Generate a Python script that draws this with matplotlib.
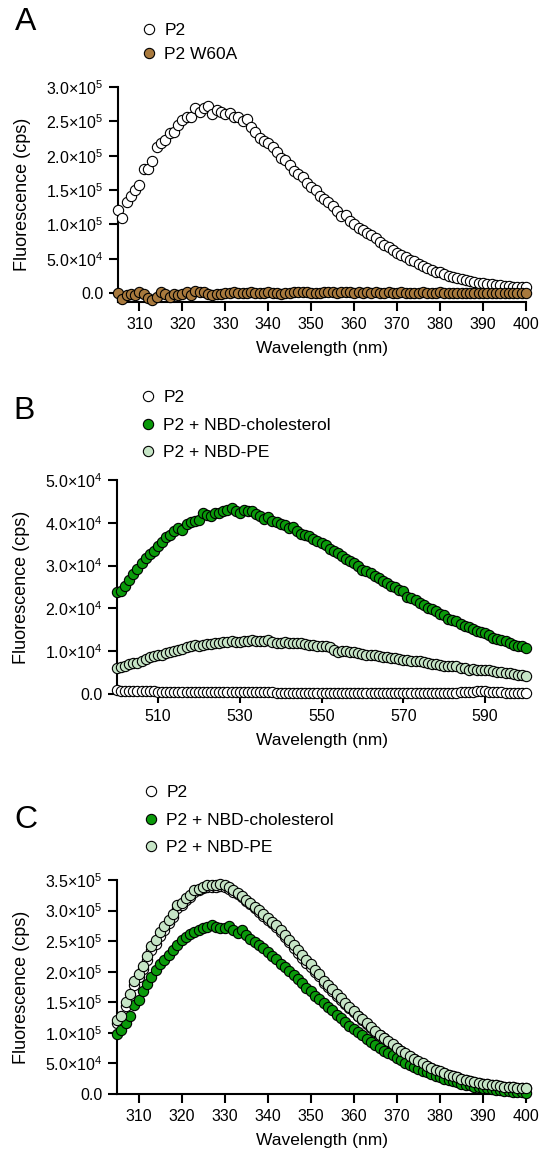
import numpy as np
import matplotlib
matplotlib.use('Agg')
import matplotlib.pyplot as plt

plt.rcParams['font.family'] = ['Liberation Sans', 'DejaVu Sans']
plt.rcParams['mathtext.fontset'] = 'custom'
plt.rcParams['mathtext.rm'] = 'Liberation Sans'
plt.rcParams['mathtext.it'] = 'Liberation Sans:italic'
plt.rcParams['mathtext.bf'] = 'Liberation Sans:bold'
plt.rcParams['mathtext.sf'] = 'Liberation Sans'

# ---- data -------------------------------------------------------------
# panel A / C wavelength axis: 305..400 nm, 1 nm steps
wl_trp = list(range(305, 401))
# panel B wavelength axis: 500..600 nm
wl_nbd = list(range(500, 601))

# panel A, units of 1e5 cps
a_p2 = [1.21, 1.10, 1.33, 1.41, 1.50, 1.58, 1.81, 1.81, 1.92, 2.12,
        2.19, 2.23, 2.33, 2.35, 2.45, 2.52, 2.57, 2.56, 2.69, 2.64,
        2.70, 2.72, 2.61, 2.67, 2.64, 2.60, 2.62, 2.57, 2.56, 2.51,
        2.53, 2.42, 2.34, 2.26, 2.21, 2.18, 2.12, 2.05, 1.97, 1.94,
        1.87, 1.78, 1.74, 1.69, 1.60, 1.55, 1.50, 1.42, 1.37, 1.33,
        1.27, 1.20, 1.12, 1.13, 1.05, 1.00, 0.95, 0.92, 0.88, 0.84,
        0.80, 0.75, 0.70, 0.67, 0.63, 0.59, 0.55, 0.52, 0.48, 0.46,
        0.42, 0.39, 0.36, 0.34, 0.31, 0.30, 0.28, 0.25, 0.23, 0.22,
        0.20, 0.19, 0.18, 0.16, 0.15, 0.145, 0.135, 0.13, 0.12, 0.115,
        0.105, 0.10, 0.095, 0.09, 0.087, 0.082]
a_w60a = [0.0, -0.09, -0.025, -0.01, -0.035, 0.015, -0.015, -0.07, -0.095, -0.05,
          0.01, -0.015, -0.05, -0.01, -0.03, -0.02, 0.01, -0.03, 0.03, 0.01,
          0.01, -0.01, -0.03, -0.01, -0.015, -0.005, 0.005, 0.01, 0.0, 0.005,
          0.005, 0.01, 0.005, 0.0, 0.005, 0.01, 0.005, 0.0, -0.01, -0.005,
          0.0, 0.015, 0.02, 0.015, 0.01, 0.005, 0.0, 0.005, 0.01, 0.015,
          0.01, 0.005, 0.01, 0.015, 0.01, 0.005, 0.01, 0.005, 0.01, 0.005,
          0.01, 0.005, 0.005, 0.01, 0.005, 0.005, 0.01, 0.005, 0.0, 0.005,
          0.005, 0.01, 0.005, 0.005, 0.005, 0.01, 0.005, 0.005, 0.0, 0.005,
          0.005, 0.005, 0.0, 0.005, 0.005, 0.0, 0.005, 0.005, 0.0, 0.005,
          0.0, 0.0, 0.005, 0.0, 0.0, 0.0]

# panel B, units of 1e4 cps
b_p2 = [0.09, 0.08, 0.08, 0.07, 0.07, 0.07, 0.06, 0.06, 0.06, 0.06,
        0.05, 0.05, 0.05, 0.05, 0.05, 0.05, 0.04, 0.04, 0.04, 0.04,
        0.04, 0.04, 0.04, 0.04, 0.04, 0.04, 0.04, 0.04, 0.04, 0.04,
        0.04, 0.04, 0.04, 0.04, 0.04, 0.04, 0.04, 0.04, 0.04, 0.03,
        0.03, 0.03, 0.03, 0.03, 0.03, 0.03, 0.03, 0.03, 0.03, 0.03,
        0.03, 0.03, 0.03, 0.03, 0.03, 0.03, 0.03, 0.03, 0.03, 0.03,
        0.03, 0.03, 0.03, 0.03, 0.03, 0.03, 0.03, 0.03, 0.03, 0.03,
        0.03, 0.03, 0.03, 0.03, 0.03, 0.03, 0.03, 0.03, 0.03, 0.03,
        0.03, 0.03, 0.03, 0.03, 0.04, 0.04, 0.05, 0.05, 0.06, 0.06,
        0.06, 0.05, 0.05, 0.04, 0.04, 0.03, 0.03, 0.03, 0.03, 0.03,
        0.03]
b_chol = [2.38, 2.40, 2.53, 2.66, 2.80, 2.92, 3.05, 3.18, 3.27, 3.35,
          3.45, 3.54, 3.66, 3.71, 3.82, 3.89, 3.83, 3.97, 4.01, 4.05,
          4.07, 4.22, 4.19, 4.17, 4.24, 4.24, 4.27, 4.30, 4.34, 4.28,
          4.24, 4.30, 4.27, 4.27, 4.21, 4.17, 4.10, 4.13, 4.05, 4.03,
          3.97, 3.96, 3.89, 3.91, 3.80, 3.74, 3.72, 3.68, 3.62, 3.57,
          3.52, 3.48, 3.39, 3.35, 3.29, 3.22, 3.15, 3.10, 3.06, 3.00,
          2.90, 2.88, 2.82, 2.76, 2.71, 2.63, 2.59, 2.53, 2.49, 2.43,
          2.40, 2.27, 2.24, 2.20, 2.13, 2.09, 2.02, 1.99, 1.95, 1.88,
          1.85, 1.75, 1.73, 1.70, 1.64, 1.60, 1.56, 1.52, 1.48, 1.44,
          1.43, 1.38, 1.32, 1.29, 1.26, 1.23, 1.18, 1.15, 1.13, 1.11,
          1.07]
b_pe = [0.60, 0.62, 0.66, 0.70, 0.72, 0.72, 0.78, 0.82, 0.86, 0.89,
        0.90, 0.92, 0.96, 0.99, 1.01, 1.03, 1.04, 1.09, 1.13, 1.14,
        1.13, 1.15, 1.17, 1.17, 1.18, 1.19, 1.21, 1.22, 1.23, 1.21,
        1.22, 1.23, 1.23, 1.26, 1.23, 1.23, 1.25, 1.27, 1.21, 1.20,
        1.20, 1.21, 1.18, 1.19, 1.19, 1.20, 1.17, 1.14, 1.14, 1.12,
        1.11, 1.11, 1.09, 1.03, 0.99, 1.00, 1.01, 0.97, 0.99, 0.95,
        0.93, 0.91, 0.92, 0.90, 0.88, 0.87, 0.86, 0.84, 0.84, 0.82,
        0.80, 0.79, 0.78, 0.76, 0.76, 0.74, 0.72, 0.70, 0.70, 0.68,
        0.66, 0.65, 0.66, 0.65, 0.61, 0.61, 0.57, 0.58, 0.56, 0.56,
        0.55, 0.55, 0.53, 0.52, 0.51, 0.49, 0.48, 0.47, 0.45, 0.45,
        0.43]

# panel C, units of 1e5 cps
c_p2 = [1.16, 1.24, 1.44, 1.56, 1.78, 1.91, 2.04, 2.19, 2.35, 2.46,
        2.59, 2.69, 2.80, 2.90, 3.05, 3.09, 3.17, 3.23, 3.31, 3.34,
        3.37, 3.39, 3.38, 3.39, 3.41, 3.38, 3.35, 3.31, 3.27, 3.22,
        3.16, 3.11, 3.04, 2.98, 2.91, 2.85, 2.79, 2.73, 2.65, 2.57,
        2.48, 2.39, 2.31, 2.22, 2.14, 2.07, 1.99, 1.93, 1.82, 1.75,
        1.68, 1.61, 1.54, 1.47, 1.40, 1.34, 1.27, 1.21, 1.15, 1.08,
        1.02, 0.96, 0.91, 0.85, 0.80, 0.75, 0.70, 0.66, 0.61, 0.57,
        0.53, 0.49, 0.46, 0.42, 0.39, 0.36, 0.34, 0.31, 0.29, 0.27,
        0.25, 0.23, 0.21, 0.20, 0.18, 0.17, 0.16, 0.15, 0.14, 0.13,
        0.12, 0.115, 0.11, 0.105, 0.10, 0.095]
c_chol = [0.98, 1.04, 1.16, 1.28, 1.45, 1.54, 1.69, 1.80, 1.91, 2.02,
          2.13, 2.19, 2.28, 2.35, 2.43, 2.52, 2.57, 2.61, 2.65, 2.68,
          2.71, 2.73, 2.76, 2.73, 2.72, 2.71, 2.74, 2.68, 2.64, 2.68,
          2.60, 2.53, 2.49, 2.43, 2.38, 2.32, 2.26, 2.20, 2.13, 2.08,
          2.01, 1.94, 1.88, 1.82, 1.74, 1.68, 1.61, 1.55, 1.49, 1.42,
          1.37, 1.30, 1.24, 1.18, 1.12, 1.07, 1.01, 0.96, 0.90, 0.85,
          0.80, 0.75, 0.71, 0.67, 0.63, 0.59, 0.55, 0.51, 0.48, 0.44,
          0.41, 0.38, 0.36, 0.33, 0.30, 0.27, 0.25, 0.23, 0.21, 0.19,
          0.17, 0.15, 0.14, 0.12, 0.11, 0.10, 0.09, 0.08, 0.065, 0.06,
          0.05, 0.045, 0.04, 0.035, 0.03, 0.02]
c_pe = [1.21, 1.28, 1.50, 1.63, 1.85, 1.97, 2.10, 2.26, 2.42, 2.52,
        2.65, 2.74, 2.84, 2.94, 3.09, 3.12, 3.20, 3.25, 3.34, 3.36,
        3.39, 3.42, 3.42, 3.42, 3.44, 3.42, 3.38, 3.34, 3.29, 3.24,
        3.18, 3.13, 3.06, 3.01, 2.94, 2.88, 2.82, 2.76, 2.68, 2.60,
        2.52, 2.43, 2.35, 2.27, 2.19, 2.12, 2.03, 1.97, 1.85, 1.78,
        1.71, 1.64, 1.57, 1.49, 1.42, 1.36, 1.28, 1.22, 1.16, 1.09,
        1.03, 0.97, 0.92, 0.86, 0.81, 0.75, 0.71, 0.67, 0.62, 0.58,
        0.54, 0.50, 0.46, 0.43, 0.39, 0.37, 0.34, 0.31, 0.29, 0.27,
        0.25, 0.23, 0.21, 0.20, 0.18, 0.17, 0.16, 0.15, 0.14, 0.13,
        0.12, 0.115, 0.11, 0.105, 0.10, 0.095]

WHITE = '#ffffff'
BROWN = '#a8793d'
GREEN = '#0a9a0a'
LIGHT = '#c6e5c6'

W, H = 541, 1155
fig = plt.figure(figsize=(W / 100, H / 100), dpi=100)


def add_axes(left, right, top, bottom):
    return fig.add_axes([left / W, 1 - bottom / H, (right - left) / W, (bottom - top) / H])


def style(ax, xticks, yticks, ylabels):
    for s in ('top', 'right'):
        ax.spines[s].set_visible(False)
    for s in ('left', 'bottom'):
        ax.spines[s].set_linewidth(1.5)
    ax.tick_params(width=1.5, length=6.5, labelsize=11.5, pad=4)
    ax.set_xticks(xticks)
    ax.set_yticks(yticks)
    ax.set_yticklabels(ylabels)
    ax.set_xlabel('Wavelength (nm)', fontsize=12.5, labelpad=7)
    ax.set_ylabel('Fluorescence (cps)', fontsize=13, labelpad=11)


def dots(ax, x, y, scale, color, label):
    ax.plot(x, np.array(y) * scale, 'o', ms=7.4, mfc=color, mec='black', mew=0.8,
            clip_on=False, label=label, zorder=3)


def legend(ax, x, y, spacing):
    ax.legend(loc='upper left', bbox_to_anchor=(x / W, 1 - y / H), bbox_transform=fig.transFigure,
              frameon=False, fontsize=12.5, handlelength=1.0, handletextpad=0.4,
              borderpad=0, borderaxespad=0, labelspacing=spacing, markerscale=1.0)


def sci(v, e):
    return f'{v:.1f}×10$^{{{e}}}$'


# ---- panel A ----------------------------------------------------------
axA = add_axes(118, 526, 87, 302)
dots(axA, wl_trp, a_p2, 1e5, WHITE, 'P2')
dots(axA, wl_trp, a_w60a, 1e5, BROWN, 'P2 W60A')
axA.set_xlim(305, 400)
axA.set_ylim(-13000, 300000)
style(axA, range(310, 401, 10), [0, 5e4, 1e5, 1.5e5, 2e5, 2.5e5, 3e5],
      ['0.0', sci(5.0, 4), sci(1.0, 5), sci(1.5, 5), sci(2.0, 5), sci(2.5, 5), sci(3.0, 5)])
legend(axA, 140, 23, 0.5)
fig.text(15 / W, 1 - 22 / H, 'A', fontsize=23, va='center', ha='left')

# ---- panel B ----------------------------------------------------------
axB = add_axes(117, 526, 480, 694)
dots(axB, wl_nbd, b_p2, 1e4, WHITE, 'P2')
dots(axB, wl_nbd, b_chol, 1e4, GREEN, 'P2 + NBD-cholesterol')
dots(axB, wl_nbd, b_pe, 1e4, LIGHT, 'P2 + NBD-PE')
axB.set_xlim(500, 600)
axB.set_ylim(0, 50000)
style(axB, range(510, 600, 20), [0, 1e4, 2e4, 3e4, 4e4, 5e4],
      ['0.0', sci(1.0, 4), sci(2.0, 4), sci(3.0, 4), sci(4.0, 4), sci(5.0, 4)])
legend(axB, 139, 390, 0.72)
fig.text(13 / W, 1 - 411 / H, 'B', fontsize=23, va='center', ha='left')

# ---- panel C ----------------------------------------------------------
axC = add_axes(117, 526, 880, 1094)
dots(axC, wl_trp, c_p2, 1e5, WHITE, 'P2')
dots(axC, wl_trp, c_chol, 1e5, GREEN, 'P2 + NBD-cholesterol')
dots(axC, wl_trp, c_pe, 1e5, LIGHT, 'P2 + NBD-PE')
axC.set_xlim(305, 400)
axC.set_ylim(0, 350000)
style(axC, range(310, 401, 10), [0, 5e4, 1e5, 1.5e5, 2e5, 2.5e5, 3e5, 3.5e5],
      ['0.0', sci(5.0, 4), sci(1.0, 5), sci(1.5, 5), sci(2.0, 5), sci(2.5, 5), sci(3.0, 5), sci(3.5, 5)])
legend(axC, 142, 785, 0.72)
fig.text(14 / W, 1 - 820 / H, 'C', fontsize=23, va='center', ha='left')

fig.savefig('out.png', dpi=100)
